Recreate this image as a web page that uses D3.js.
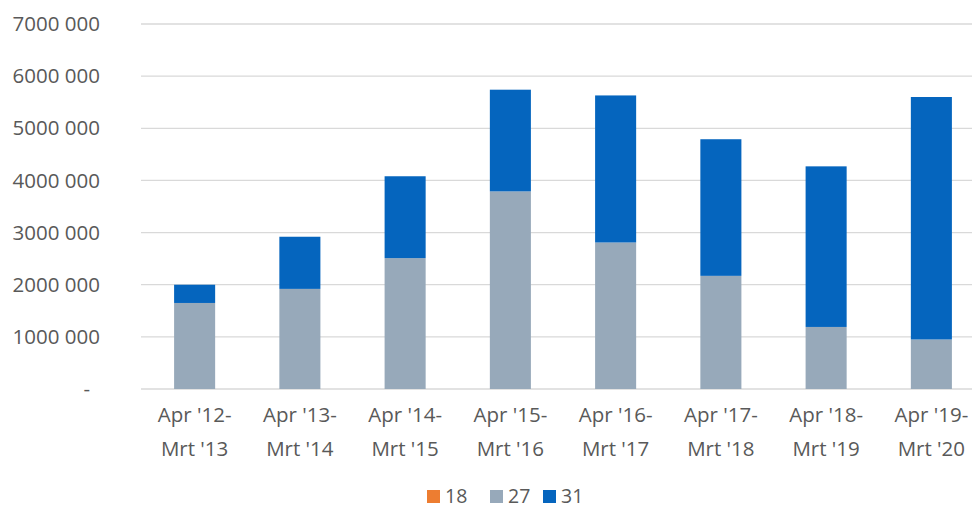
<!DOCTYPE html>
<html>
<head>
<meta charset="utf-8">
<script src="https://cdn.jsdelivr.net/npm/d3@7"></script>
<style>
  body { margin: 0; background: #fff; }
  text { font-family: "Open Sans", sans-serif; fill: #595959; }
</style>
</head>
<body>
<div id="chart"></div>
<script>
// data
const periods = [
  ["Apr '12-", "Mrt '13"], ["Apr '13-", "Mrt '14"], ["Apr '14-", "Mrt '15"], ["Apr '15-", "Mrt '16"],
  ["Apr '16-", "Mrt '17"], ["Apr '17-", "Mrt '18"], ["Apr '18-", "Mrt '19"], ["Apr '19-", "Mrt '20"]
];
const seriesNames = ["18", "27", "31"];
const s18 = [0, 0, 0, 0, 0, 0, 0, 0];
const s27 = [1650000, 1920000, 2510000, 3790000, 2810000, 2170000, 1190000, 950000];
const s31 = [350000, 1000000, 1570000, 1950000, 2820000, 2620000, 3080000, 4650000];
const yTicks = [0, 1000000, 2000000, 3000000, 4000000, 5000000, 6000000, 7000000];
const yTickLabels = ["-", "1000 000", "2000 000", "3000 000", "4000 000", "5000 000", "6000 000", "7000 000"];
const colors = ["#ED7D31", "#97A9BA", "#0565BE"];

const W = 972, H = 510;
const svg = d3.select("#chart").append("svg")
    .attr("width", W).attr("height", H);

const rows = periods.map((p, i) => ({idx: i, "18": s18[i], "27": s27[i], "31": s31[i]}));

let xScale = d3.scaleBand()
    .domain(d3.range(periods.length))
    .range([142, 984])
    .paddingInner(0.61)
    .paddingOuter(0.305);

let yScale = d3.scaleLinear()
    .domain([0, 7000000])
    .range([389, 24]);

// gridlines
svg.append("g")
    .selectAll("line")
    .data(yTicks)
    .enter().append("line")
    .attr("x1", 141).attr("x2", W)
    .attr("y1", d => yScale(d)).attr("y2", d => yScale(d))
    .attr("stroke", "#D9D9D9")
    .attr("stroke-width", 1.3);

// y labels
svg.append("g")
    .selectAll("text")
    .data(yTicks)
    .enter().append("text")
    .attr("x", (d, i) => i === 0 ? 90 : 100)
    .attr("y", d => yScale(d))
    .attr("dy", "0.35em")
    .attr("text-anchor", "end")
    .style("font-size", "20.5px")
    .text((d, i) => yTickLabels[i]);

// stacked bars
const stack = d3.stack().keys(seriesNames);
const series = stack(rows);

svg.append("g")
    .selectAll("g")
    .data(series)
    .enter().append("g")
    .attr("fill", (d, i) => colors[i])
    .selectAll("rect")
    .data(d => d)
    .enter().append("rect")
    .attr("x", d => xScale(d.data.idx))
    .attr("width", xScale.bandwidth())
    .attr("y", d => yScale(d[1]))
    .attr("height", d => yScale(d[0]) - yScale(d[1]));

// x labels
const xl = svg.append("g")
    .selectAll("text")
    .data(periods)
    .enter().append("text")
    .attr("text-anchor", "middle")
    .style("font-size", "20.5px");
xl.append("tspan")
    .attr("x", (d, i) => xScale(i) + xScale.bandwidth() / 2)
    .attr("y", 422)
    .text(d => d[0]);
xl.append("tspan")
    .attr("x", (d, i) => xScale(i) + xScale.bandwidth() / 2)
    .attr("y", 456)
    .text(d => d[1]);

// legend
const legendX = [427, 490, 543];
const lg = svg.append("g")
    .selectAll("g")
    .data(seriesNames)
    .enter().append("g")
    .attr("transform", (d, i) => "translate(" + legendX[i] + ",490)");
lg.append("rect")
    .attr("width", 13).attr("height", 13)
    .attr("fill", (d, i) => colors[i]);
lg.append("text")
    .attr("x", 18).attr("y", 6.5)
    .attr("dy", "0.35em")
    .style("font-size", "19.5px")
    .text(d => d);
</script>
</body>
</html>
